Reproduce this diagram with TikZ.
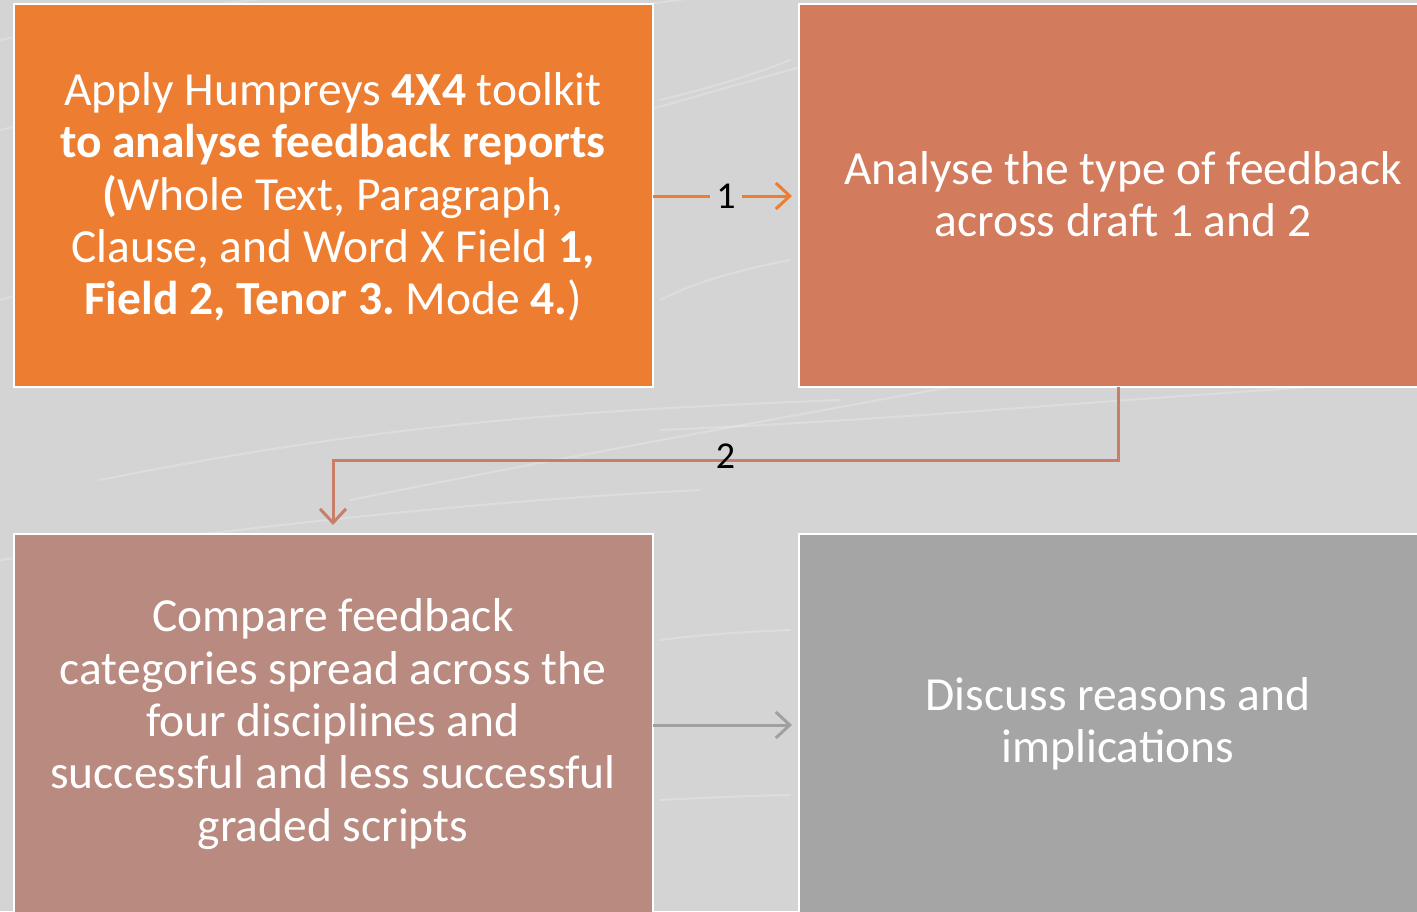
\documentclass[tikz,border=0pt]{standalone}
\usepackage{fontspec}
\setmainfont{Carlito}
\usetikzlibrary{arrows.meta}
\frenchspacing
\definecolor{bgc}{HTML}{D4D4D4}
\definecolor{c1}{HTML}{ED7D31}
\definecolor{c2}{HTML}{D37B5D}
\definecolor{c3}{HTML}{B98A80}
\definecolor{c4}{HTML}{A5A5A5}
\definecolor{a2}{HTML}{C97E6A}
\definecolor{a3}{HTML}{A0A0A0}
\tikzset{
  boxst/.style={draw=white, line width=2.5pt},
  txt/.style={text=white, align=center, font=\fontsize{47.5}{52.3}\selectfont, inner sep=0pt},
  conn/.style={line width=3pt, -{Straight Barb[length=14pt,width=26pt,line width=3pt]}},
  lbl/.style={text=black, font=\fontsize{38}{44}\selectfont, inner sep=2pt},
  streak/.style={white, opacity=0.22, line width=2pt, line cap=round}
}
\begin{document}
\begin{tikzpicture}[x=1pt,y=-1pt]
\useasboundingbox (0,0) rectangle (1417,911);
\clip (0,0) rectangle (1417,911);
\fill[bgc] (0,0) rectangle (1417,911);
% streaks
\draw[streak] (0,130) .. controls (300,60) and (500,20) .. (760,-10);
\draw[streak] (0,300) .. controls (350,200) and (600,120) .. (900,40);
\draw[streak] (100,480) .. controls (400,420) and (600,410) .. (840,400);
\draw[streak] (350,500) .. controls (700,430) and (1000,380) .. (1417,300);
\draw[streak] (0,560) .. controls (300,520) and (500,500) .. (700,490);
\draw[streak] (660,430) .. controls (900,420) and (1100,400) .. (1417,380);
\draw[streak] (660,300) .. controls (700,280) and (740,270) .. (790,260);
\draw[streak] (660,100) .. controls (700,90) and (740,80) .. (790,60);
\draw[streak] (0,40) .. controls (100,20) and (200,5) .. (300,-5);
\draw[streak] (660,640) .. controls (700,635) and (740,632) .. (790,630);
\draw[streak] (660,800) .. controls (700,798) and (740,796) .. (790,795);
% boxes
\draw[boxst, fill=c1] (14,4) rectangle (653,387);
\draw[boxst, fill=c2] (799,4) rectangle (1440,387);
\draw[boxst, fill=c3] (14,534) rectangle (653,930);
\draw[boxst, fill=c4] (799,534) rectangle (1440,930);
\coordinate (b1e) at (653,196);
\coordinate (b2w) at (799,196);
\coordinate (b2s) at (1118,387);
\coordinate (b3n) at (333,534);
\coordinate (b3e) at (653,725);
\coordinate (b4w) at (799,725);
% texts
\node[txt] (t1) at (333,197) {Apply Humpreys \textbf{4X4} toolkit\\
\textbf{to analyse feedback reports}\\
\textbf{(}Whole Text, Paragraph,\\
Clause, and Word X Field \textbf{1,}\\
\textbf{Field 2, Tenor 3.} Mode \textbf{4.}{)}};
\node[txt] (t2) at (1123,194) {Analyse the type of feedback\\across draft 1 and 2};
\node[txt] (t3) at (333,724) {Compare feedback\\categories spread across the\\four disciplines and\\successful and less successful\\graded scripts};
\node[txt] (t4) at (1118,724) {Discuss reasons and\\implications};
% connectors
\draw[conn, c1, shorten >=7pt] (b1e) -- node[lbl, fill=bgc, inner xsep=6pt, inner ysep=0pt] {1} (b2w);
\draw[conn, a2, shorten >=9pt] (b2s) -- (1118,460) -- node[lbl, pos=0.50, yshift=4pt] {2} (333,460) -- (b3n);
\draw[conn, a3, shorten >=7pt] (b3e) -- (b4w);
\end{tikzpicture}
\end{document}
